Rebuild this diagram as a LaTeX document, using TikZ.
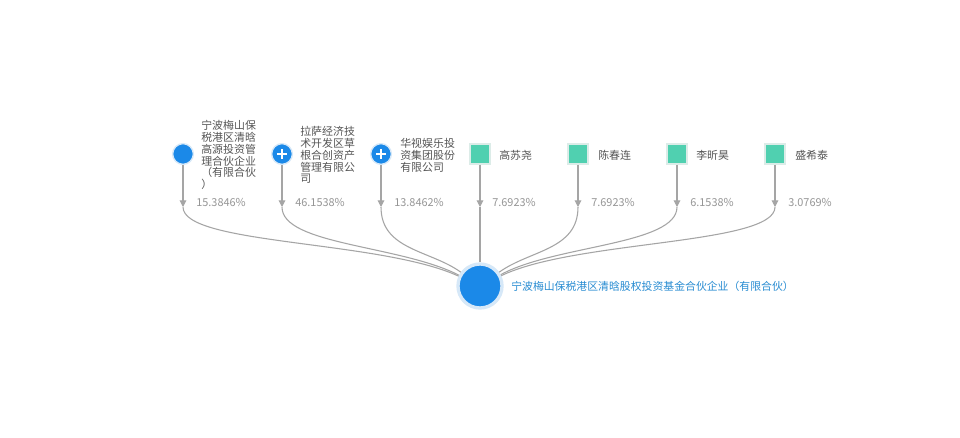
\documentclass[tikz,border=0pt]{standalone}
\usepackage{fontspec}
\setmainfont{Noto Sans CJK SC}
\usetikzlibrary{arrows.meta}
\definecolor{nodeblue}{RGB}{27,137,232}
\definecolor{halo}{RGB}{214,232,248}
\definecolor{sqteal}{RGB}{80,208,176}
\definecolor{sqborder}{RGB}{220,236,232}
\definecolor{linegray}{RGB}{165,165,165}
\definecolor{txtgray}{RGB}{85,85,85}
\definecolor{pctgray}{RGB}{150,150,150}
\definecolor{ctext}{RGB}{40,140,210}
\tikzset{
  dot/.style={circle,fill=nodeblue,draw=halo,line width=1pt,minimum size=15.5pt,inner sep=0pt},
  plusdot/.style={dot,path picture={
    \draw[white,line width=1.5pt] ([xshift=-3.6pt]path picture bounding box.center) -- ([xshift=3.6pt]path picture bounding box.center);
    \draw[white,line width=1.5pt] ([yshift=-3.6pt]path picture bounding box.center) -- ([yshift=3.6pt]path picture bounding box.center);}},
  sq/.style={rectangle,fill=sqteal,draw=sqborder,line width=1.5pt,minimum size=15pt,inner sep=0pt},
  lbl/.style={anchor=west,align=left,text=txtgray,font=\fontsize{8.2}{8.9}\selectfont,inner sep=0pt},
  pct/.style={anchor=west,text=pctgray,font=\fontsize{8.2}{9}\selectfont,inner sep=0pt},
  conn/.style={draw=linegray,line width=0.8pt},
  arr/.style={conn,-{Triangle[length=5pt,width=5pt]}},
}
\begin{document}
\begin{tikzpicture}[x=0.75pt,y=-0.75pt]
\useasboundingbox[fill=white] (0,0) rectangle (960,438);
% center
\node[circle,fill=nodeblue,draw=halo,line width=2.5pt,minimum size=33pt,inner sep=0pt] (c) at (480,286) {};
\node[anchor=west,text=ctext,font=\fontsize{8.15}{9}\selectfont,inner sep=0pt] (ct) at (511,286) {宁波梅山保税港区清晗股权投资基金合伙企业（有限合伙）};
% top nodes
\node[dot] (n1) at (183,154) {};
\node[plusdot] (n2) at (282,154) {};
\node[plusdot] (n3) at (381,154) {};
\node[sq] (n4) at (480,154) {};
\node[sq] (n5) at (578,154) {};
\node[sq] (n6) at (677,154) {};
\node[sq] (n7) at (775,154) {};
% labels
\node[lbl] (l1) at (201,155) {宁波梅山保\\税港区清晗\\高源投资管\\理合伙企业\\（有限合伙\\）};
\node[lbl] (l2) at (300,155) {拉萨经济技\\术开发区草\\根合创资产\\管理有限公\\司};
\node[lbl] (l3) at (400,155) {华视娱乐投\\资集团股份\\有限公司};
\node[lbl] (l4) at (499,155) {高苏尧};
\node[lbl] (l5) at (598,155) {陈春连};
\node[lbl] (l6) at (696,155) {李昕昊};
\node[lbl] (l7) at (795,155) {盛希泰};
% percentages
\node[pct] (p1) at (196,202) {15.3846\%};
\node[pct] (p2) at (295,202) {46.1538\%};
\node[pct] (p3) at (394,202) {13.8462\%};
\node[pct] (p4) at (492,202) {7.6923\%};
\node[pct] (p5) at (591,202) {7.6923\%};
\node[pct] (p6) at (690,202) {6.1538\%};
\node[pct] (p7) at (788,202) {3.0769\%};
% arrow ends
\coordinate (a1) at (183,207);
\coordinate (a2) at (282,207);
\coordinate (a3) at (381,207);
\coordinate (a4) at (480,207);
\coordinate (a5) at (578,207);
\coordinate (a6) at (677,207);
\coordinate (a7) at (775,207);
\foreach \i in {1,...,7}{\draw[arr] (n\i) -- (a\i);}
\draw[conn] (a1) .. controls (183,245) and (380,240) .. (c);
\draw[conn] (a2) .. controls (282,245) and (400,245) .. (c);
\draw[conn] (a3) .. controls (381,250) and (430,250) .. (c);
\draw[conn] (a4) -- (c);
\draw[conn] (a5) .. controls (578,250) and (530,250) .. (c);
\draw[conn] (a6) .. controls (677,245) and (555,245) .. (c);
\draw[conn] (a7) .. controls (775,245) and (575,240) .. (c);
\end{tikzpicture}
\end{document}
